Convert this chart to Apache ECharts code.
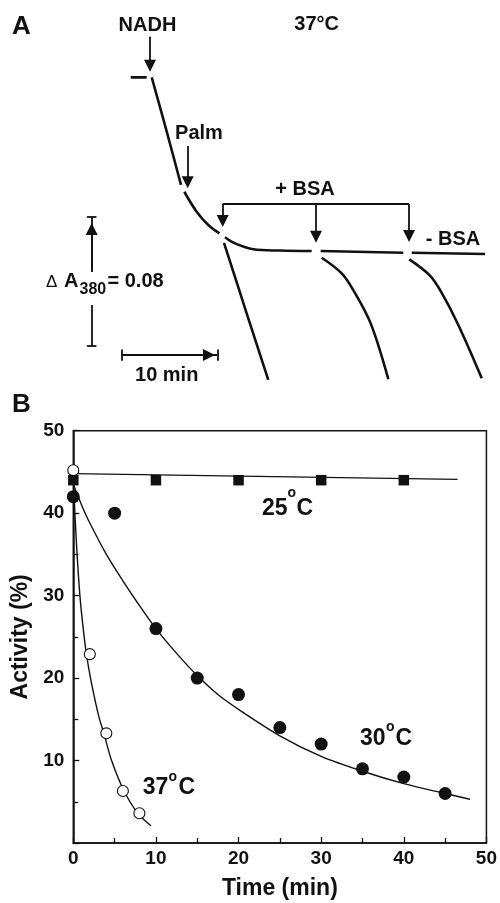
<!DOCTYPE html>
<html><head><meta charset="utf-8">
<script src="https://cdn.jsdelivr.net/npm/echarts@6/dist/echarts.min.js"></script>
<style>html,body{margin:0;padding:0;background:#fff}#c{width:500px;height:903px}</style>
</head><body><div id="c"></div>
<script>
// ---------- Panel A: recorder traces (x: minutes, y: absorbance at 380 nm) ----------
const baselineA   = [[11.58,0.1924],[13.25,0.1924]];
const traceNADH   = [[13.78,0.1924],[15.35,0.1590],[16.84,0.1262]];
const tracePalm   = [[17.19,0.1220],[18.48,0.1097],[19.70,0.1015],[20.85,0.0964]];
const traceNoBSA1 = [[21.44,0.0940],[22.49,0.0902],[24.40,0.0866],[27.20,0.0858],[30.51,0.0855]];
const traceNoBSA2 = [[31.45,0.0855],[40.09,0.0845]];
const traceNoBSA3 = [[40.97,0.0845],[48.64,0.0837]];
const traceBSA1   = [[21.34,0.0906],[23.71,0.0472],[25.97,0.0062]];
const traceBSA2   = [[31.56,0.0814],[33.65,0.0718],[34.86,0.0615],[36.68,0.0410],[38.53,0.0066]];
const traceBSA3   = [[40.72,0.0804],[42.81,0.0708],[44.04,0.0605],[45.85,0.0400],[48.30,0.0072]];
// arrows (start -> arrowhead centre)
const arrowsA = [
  [[13.60,0.2174],[13.60,0.1995]],   // NADH
  [[17.54,0.1502],[17.54,0.1278]],   // Palm
  [[21.20,0.1145],[21.20,0.1040]],   // +BSA 1
  [[30.96,0.1145],[30.96,0.0943]],   // +BSA 2
  [[40.70,0.1145],[40.70,0.0948]],   // +BSA 3
  [[7.50,0.0728],[7.50,0.0991]],     // dA scale bar
  [[10.64,0.0215],[19.77,0.0215]]    // 10 min scale bar
];
const plainLinesA = [
  [[21.20,0.1145],[40.70,0.1145]],   // +BSA bracket
  [[7.50,0.0728],[7.50,0.1066]],
  [[7.50,0.0523],[7.50,0.0271]],
  [[7.00,0.1066],[8.00,0.1066]],
  [[7.00,0.0271],[8.00,0.0271]],
  [[10.64,0.0215],[20.68,0.0215]],
  [[10.64,0.0180],[10.64,0.0250]],
  [[20.68,0.0180],[20.68,0.0250]]
];

// ---------- Panel B: activity vs time ----------
const time25 = [0,10,20,30,40];
const act25  = [44,44,44,44,44];
const time30 = [0,5,10,15,20,25,30,35,40,45];
const act30  = [42,40,26,20,18,14,12,9,8,6];
const time37 = [0,2,4,6,8];
const act37  = [45.2,22.9,13.3,6.3,3.6];
const fit25t = [0,46.5];
const fit25v = [44.8,44.1];
const fit30t = [0,1,2,4,6,8,10,12.5,15,17.5,20,25,30,35,40,45,48];
const fit30v = [43.5,41,38.8,35,31.8,28.8,26,23,20.3,18,16.2,13,10.5,8.7,7.2,6,5.3];
const fit37t = [0,0.4,0.8,1.2,1.6,2.2,3.1,3.7,4.6,6.1,7.8,9.4];
const fit37v = [44,36,30,26,22.8,19.4,15.3,13.3,10.1,6.4,3.6,2.1];
const xTicks = [0,10,20,30,40,50];
const yTicks = [10,20,30,40,50];

const zip = (a,b) => a.map((v,i)=>[v,b[i]]);
const FONT = '"Liberation Sans", Arial, Helvetica, sans-serif';
const INK = '#111';

function traceSeries(data){
  return {type:'line', xAxisIndex:0, yAxisIndex:0, data, symbol:'none', showSymbol:false,
    smooth:0.35, lineStyle:{color:INK, width:2.6}, silent:true, clip:false, animation:false, z:3};
}

const seriesA = [baselineA, traceNADH, tracePalm, traceNoBSA1, traceNoBSA2, traceNoBSA3,
  traceBSA1, traceBSA2, traceBSA3].map(traceSeries);

seriesA.push({type:'lines', coordinateSystem:'cartesian2d', xAxisIndex:0, yAxisIndex:0,
  data: plainLinesA.map(c=>({coords:c})), symbol:['none','none'],
  lineStyle:{color:INK, width:1.8, opacity:1}, silent:true, animation:false, z:4});
seriesA.push({type:'lines', coordinateSystem:'cartesian2d', xAxisIndex:0, yAxisIndex:0,
  data: arrowsA.map(c=>({coords:c})), symbol:['none','triangle'], symbolSize:[8,12],
  lineStyle:{color:INK, width:1.8, opacity:1}, itemStyle:{color:INK, opacity:1}, silent:true, animation:false, z:4});

const seriesB = [
  {type:'line', xAxisIndex:1, yAxisIndex:1, data:zip(fit25t,fit25v), symbol:'none', showSymbol:false,
    lineStyle:{color:INK,width:1.4}, silent:true, animation:false, z:2},
  {type:'line', xAxisIndex:1, yAxisIndex:1, data:zip(fit30t,fit30v), symbol:'none', showSymbol:false, smooth:0.3,
    lineStyle:{color:INK,width:1.4}, silent:true, animation:false, z:2},
  {type:'line', xAxisIndex:1, yAxisIndex:1, data:zip(fit37t,fit37v), symbol:'none', showSymbol:false, smooth:0.3,
    lineStyle:{color:INK,width:1.4}, silent:true, animation:false, z:2},
  {type:'scatter', xAxisIndex:1, yAxisIndex:1, data:zip(time37,act37), symbol:'circle', symbolSize:11,
    itemStyle:{color:'#fff', borderColor:INK, borderWidth:1.1, opacity:1}, clip:false, silent:true, animation:false, z:5},
  {type:'scatter', xAxisIndex:1, yAxisIndex:1, data:zip(time25,act25), symbol:'rect', symbolSize:10.5,
    itemStyle:{color:INK, opacity:1}, clip:false, silent:true, animation:false, z:6},
  {type:'scatter', xAxisIndex:1, yAxisIndex:1, data:zip(time30,act30), symbol:'circle', symbolSize:13,
    itemStyle:{color:INK, opacity:1}, clip:false, silent:true, animation:false, z:6}
];

function txt(x,y,text,size,opts){
  opts = opts||{};
  return {type:'text', x, y, silent:true, z:10,
    style:{text, font:(opts.weight||'bold')+' '+size+'px '+FONT, fill:INK,
      align:opts.align||'center', verticalAlign:opts.va||'middle'}};
}

const graphics = [
  txt(12,27,'A',26,{align:'left'}),
  txt(147.5,25.5,'NADH',20),
  txt(316.7,24.5,'37°C',20),
  txt(199,133.5,'Palm',20),
  txt(305,189,'+ BSA',20),
  txt(453,239,'- BSA',20),
  txt(46,282,'\u0394',17,{align:'left',weight:'normal'}),
  txt(64,281.5,'A',20,{align:'left'}),
  txt(79.5,289.5,'380',16,{align:'left'}),
  txt(107.5,281.5,'= 0.08',20,{align:'left'}),
  txt(166.7,375,'10 min',20),
  txt(12,405,'B',26,{align:'left'}),
  txt(262,509,'25',23,{align:'left'}), txt(287.5,493.3,'o',14,{align:'left'}), txt(296.5,509,'C',23,{align:'left'}),
  txt(360,739,'30',23,{align:'left'}), txt(386,726.7,'o',14,{align:'left'}), txt(395.5,739,'C',23,{align:'left'}),
  txt(142.7,788,'37',23,{align:'left'}), txt(168.5,776.7,'o',14,{align:'left'}), txt(178.5,788,'C',23,{align:'left'})
];

const chart = echarts.init(document.getElementById('c'), null, {renderer:'canvas'});
chart.setOption({
  animation:false,
  backgroundColor:'#fff',
  grid:[
    {left:20, top:0, width:478, height:390, show:false},
    {left:73.3, top:430.7, right:13.3, bottom:60, show:true, borderColor:INK, borderWidth:1.5, backgroundColor:'transparent'}
  ],
  xAxis:[
    {gridIndex:0, type:'value', min:0, max:50, show:false},
    {gridIndex:1, type:'value', min:0, max:50, interval:10,
      name:'Time (min)', nameLocation:'middle', nameGap:34,
      nameTextStyle:{fontFamily:FONT, fontWeight:'bold', fontSize:23, color:INK},
      axisLine:{show:true, onZero:false, lineStyle:{color:INK, width:1.5}},
      axisTick:{show:true, inside:true, length:6, lineStyle:{color:INK, width:1.3}},
      minorTick:{show:true, splitNumber:2, length:5, lineStyle:{color:INK, width:1.3}},
      splitLine:{show:false},
      axisLabel:{fontFamily:FONT, fontWeight:'bold', fontSize:19, color:INK, margin:6,
        formatter:v=>xTicks.includes(v)?String(v):''}}
  ],
  yAxis:[
    {gridIndex:0, type:'value', min:0, max:0.24, show:false},
    {gridIndex:1, type:'value', min:0, max:50, interval:10,
      name:'Activity (%)', nameLocation:'middle', nameGap:39, nameRotate:90,
      nameTextStyle:{fontFamily:FONT, fontWeight:'bold', fontSize:23, color:INK},
      axisLine:{show:true, onZero:false, lineStyle:{color:INK, width:1.5}},
      axisTick:{show:true, inside:true, length:6, lineStyle:{color:INK, width:1.3}},
      minorTick:{show:true, splitNumber:2, length:5, lineStyle:{color:INK, width:1.3}},
      splitLine:{show:false},
      axisLabel:{fontFamily:FONT, fontWeight:'bold', fontSize:19, color:INK, margin:9,
        formatter:v=>yTicks.includes(v)?String(v):''}}
  ],
  series: seriesA.concat(seriesB),
  graphic: graphics
});
</script>
</body></html>
